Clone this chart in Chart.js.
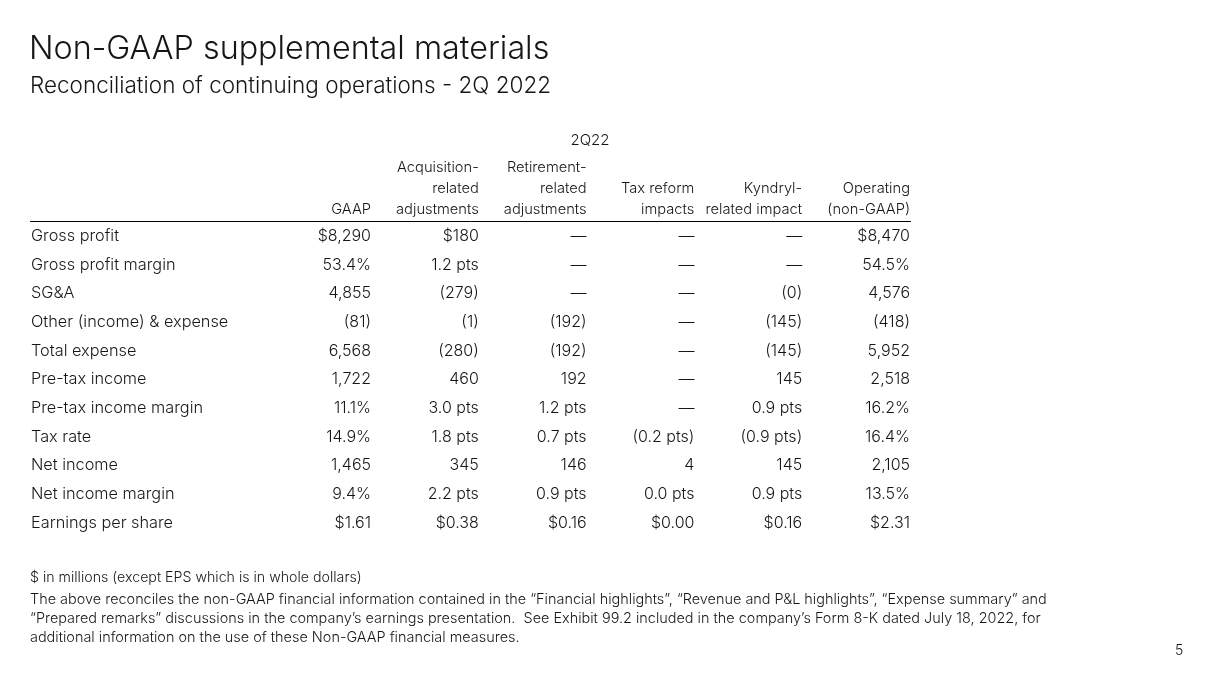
<!DOCTYPE html>
<html><head><meta charset="utf-8">
<script src="https://cdn.jsdelivr.net/npm/chart.js@4/dist/chart.umd.min.js"></script>
<style>
html,body{margin:0;padding:0;background:#fff;}
body{width:1212px;height:681px;position:relative;overflow:hidden;font-family:Inter,Roboto,sans-serif;color:#161616;}
#wrap{position:absolute;left:0;top:0;width:1212px;height:681px;}
.t{position:absolute;white-space:nowrap;}
#title{left:29px;top:28px;font-size:32.3px;font-weight:300;}
#sub{left:30px;top:71px;font-size:22.5px;font-weight:300;}
#period{left:590px;top:130px;font-size:15px;font-weight:300;transform:translateX(-50%);}
#units{left:30px;top:568px;font-size:14.2px;font-weight:300;}
#note{left:30px;top:589px;font-size:14.45px;line-height:19px;font-weight:300;}
#page{left:1175px;top:641px;font-size:14px;font-weight:300;}
</style></head><body>
<div id="wrap"><canvas id="c" width="1212" height="681"></canvas></div>
<div class="t" id="title">Non-GAAP supplemental materials</div>
<div class="t" id="sub">Reconciliation of continuing operations - 2Q 2022</div>
<div class="t" id="period">2Q22</div>
<div class="t" id="units">$ in millions (except EPS which is in whole dollars)</div>
<div class="t" id="note">The above reconciles the non-GAAP financial information contained in the “Financial highlights”, “Revenue and P&amp;L highlights”, “Expense summary” and<br>“Prepared remarks” discussions in the company’s earnings presentation.&nbsp; See Exhibit 99.2 included in the company’s Form 8-K dated July 18, 2022, for<br>additional information on the use of these Non-GAAP financial measures.</div>
<div class="t" id="page">5</div>
<script>
const rowLabels = ['Gross profit','Gross profit margin','SG&A','Other (income) & expense','Total expense','Pre-tax income','Pre-tax income margin','Tax rate','Net income','Net income margin','Earnings per share'];
const columnKeys = ['GAAP','Acquisition-related adjustments','Retirement-related adjustments','Tax reform impacts','Kyndryl-related impact','Operating (non-GAAP)'];
const columnHeaderLines = [['GAAP'],['Acquisition-','related','adjustments'],['Retirement-','related','adjustments'],['Tax reform','impacts'],['Kyndryl-','related impact'],['Operating','(non-GAAP)']];
const gaap = ['$8,290','53.4%','4,855','(81)','6,568','1,722','11.1%','14.9%','1,465','9.4%','$1.61'];
const acquisition = ['$180','1.2 pts','(279)','(1)','(280)','460','3.0 pts','1.8 pts','345','2.2 pts','$0.38'];
const retirement = ['—','—','—','(192)','(192)','192','1.2 pts','0.7 pts','146','0.9 pts','$0.16'];
const taxReform = ['—','—','—','—','—','—','—','(0.2 pts)','4','0.0 pts','$0.00'];
const kyndryl = ['—','—','(0)','(145)','(145)','145','0.9 pts','(0.9 pts)','145','0.9 pts','$0.16'];
const operating = ['$8,470','54.5%','4,576','(418)','5,952','2,518','16.2%','16.4%','2,105','13.5%','$2.31'];

const columnValues = [gaap, acquisition, retirement, taxReform, kyndryl, operating];
const TEXT = '#161616';
const FONT = 'Inter, Roboto, sans-serif';

const datasets = columnValues.map((vals, c) => ({
  label: columnKeys[c],
  cellText: vals,
  data: rowLabels.map(r => ({x: columnKeys[c], y: r})),
  pointRadius: 0, pointHoverRadius: 0, showLine: false
}));

const cellPlugin = {
  id: 'cells',
  afterDatasetsDraw(chart) {
    const ctx = chart.ctx;
    const area = chart.chartArea;
    const ys = chart.scales.y;
    ctx.save();
    ctx.strokeStyle = '#000';
    ctx.lineWidth = 1;
    const ly = Math.round(area.top) - 0.5;
    ctx.beginPath(); ctx.moveTo(ys.left - 1, ly); ctx.lineTo(area.right + 1, ly); ctx.stroke();
    ctx.fillStyle = TEXT;
    ctx.font = '300 16px ' + FONT;
    ctx.textAlign = 'right';
    ctx.textBaseline = 'middle';
    chart.data.datasets.forEach((ds, di) => {
      const meta = chart.getDatasetMeta(di);
      meta.data.forEach((pt, i) => {
        ctx.fillText(ds.cellText[i], pt.x, pt.y);
      });
    });
    ctx.restore();
  }
};

new Chart(document.getElementById('c'), {
  type: 'scatter',
  data: { datasets },
  plugins: [cellPlugin],
  options: {
    responsive: false,
    animation: false,
    events: [],
    layout: { padding: { left: 31, right: 302, top: 141.65, bottom: 143.65 } },
    plugins: { legend: { display: false }, tooltip: { enabled: false }, title: { display: false } },
    scales: {
      x: {
        type: 'category', labels: columnKeys, position: 'top', offset: false,
        grid: { display: false, drawTicks: false }, border: { display: false },
        ticks: { align: 'end', autoSkip: false, maxRotation: 0, padding: 2, color: TEXT,
          font: { family: FONT, size: 14.7, weight: 300, lineHeight: 21 / 14.7 },
          callback: (v, i) => columnHeaderLines[i] },
        afterFit: s => { s.height = 80; }
      },
      y: {
        type: 'category', labels: rowLabels, offset: true,
        grid: { display: false, drawTicks: false }, border: { display: false },
        ticks: { crossAlign: 'far', autoSkip: false, padding: 0, color: TEXT,
          font: { family: FONT, size: 16.3, weight: 300 } },
        afterFit: s => { s.width = 340; }
      }
    }
  }
});
</script>
</body></html>
